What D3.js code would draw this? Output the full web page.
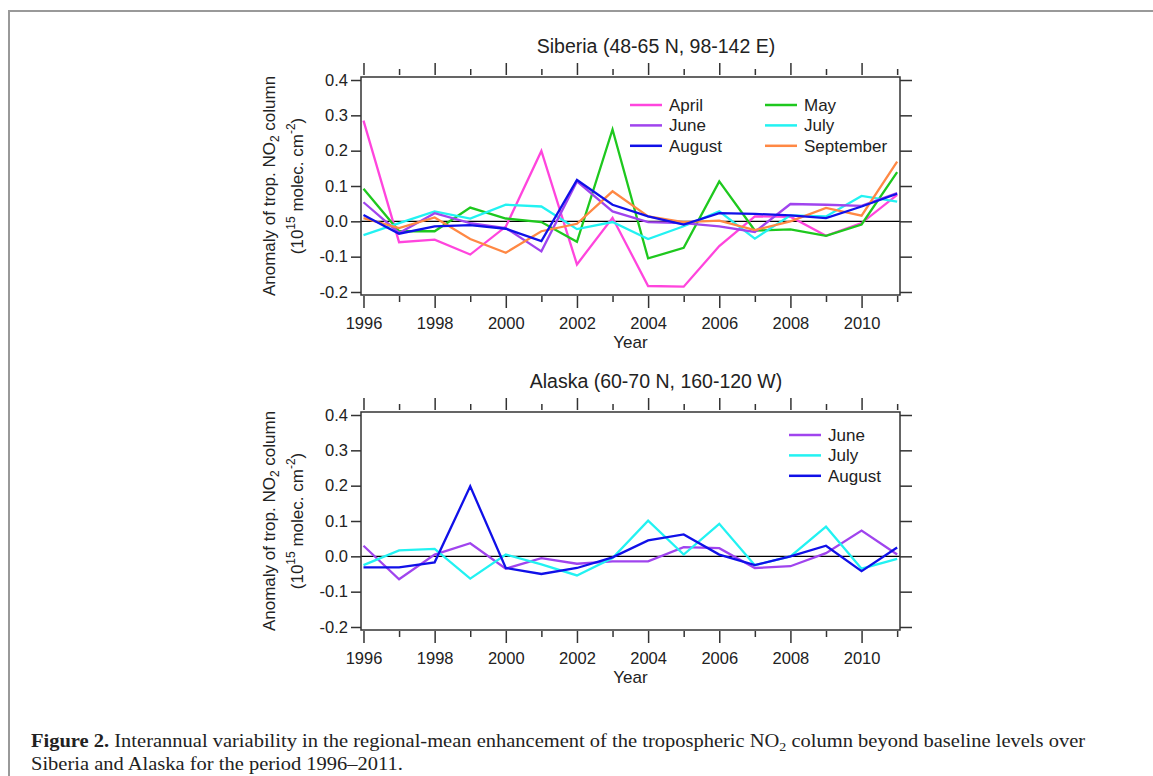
<!DOCTYPE html>
<html>
<head>
<meta charset="utf-8">
<script src="https://cdn.jsdelivr.net/npm/d3@7"></script>
<style>
  body { margin: 0; background: #fff; }
  svg { display: block; font-family: "Liberation Sans", Arial, sans-serif; }
  .tick line { stroke: #333; stroke-width: 1.5; }
  .tick text { fill: #222; font-size: 16.5px; font-family: "Liberation Sans", Arial, sans-serif; }
</style>
</head>
<body>
<svg id="chart" width="1153" height="776"></svg>
<script>
const years = [1996, 1997, 1998, 1999, 2000, 2001, 2002, 2003, 2004, 2005, 2006, 2007, 2008, 2009, 2010, 2011];
const labelYears = [1996, 1998, 2000, 2002, 2004, 2006, 2008, 2010];
const minorYears = [1997, 1999, 2001, 2003, 2005, 2007, 2009, 2011];
const yTicks = [-0.2, -0.1, 0.0, 0.1, 0.2, 0.3, 0.4];

// Siberia (48-65 N, 98-142 E)
const siberiaApril = [0.285, -0.059, -0.052, -0.094, -0.015, 0.199, -0.122, 0.010, -0.183, -0.185, -0.070, 0.014, 0.013, -0.041, -0.005, 0.075];
const siberiaMay = [0.092, -0.028, -0.028, 0.039, 0.008, -0.002, -0.058, 0.260, -0.105, -0.075, 0.113, -0.026, -0.023, -0.041, -0.009, 0.139];
const siberiaJune = [0.054, -0.033, 0.023, -0.005, -0.019, -0.085, 0.113, 0.028, -0.002, -0.005, -0.014, -0.030, 0.049, 0.047, 0.044, 0.080];
const siberiaJuly = [-0.039, -0.005, 0.028, 0.008, 0.047, 0.042, -0.022, -0.002, -0.050, -0.014, 0.028, -0.049, 0.017, 0.014, 0.072, 0.056];
const siberiaAugust = [0.018, -0.035, -0.014, -0.011, -0.021, -0.056, 0.117, 0.047, 0.014, -0.009, 0.023, 0.021, 0.017, 0.009, 0.042, 0.078];
const siberiaSeptember = [0.009, -0.019, 0.011, -0.050, -0.089, -0.028, -0.007, 0.085, 0.014, -0.002, 0.002, -0.025, 0.000, 0.038, 0.016, 0.169];

// Alaska (60-70 N, 160-120 W)
const alaskaJune = [0.030, -0.065, 0.005, 0.037, -0.035, -0.005, -0.021, -0.014, -0.014, 0.026, 0.023, -0.033, -0.028, 0.009, 0.073, 0.005];
const alaskaJuly = [-0.025, 0.017, 0.021, -0.063, 0.005, -0.023, -0.054, -0.005, 0.101, 0.005, 0.092, -0.025, 0.000, 0.084, -0.035, -0.007];
const alaskaAugust = [-0.031, -0.031, -0.017, 0.198, -0.033, -0.050, -0.033, -0.003, 0.045, 0.062, 0.005, -0.025, 0.000, 0.030, -0.042, 0.025];

const color = {
  April: "#ff45dd",
  May: "#1ec81e",
  June: "#a044ee",
  July: "#22f2f2",
  August: "#1010e8",
  September: "#ff8844",
};

const svg = d3.select("#chart");

// page border
svg.append("path")
  .attr("d", "M9,776V11H1153")
  .attr("fill", "none")
  .attr("stroke", "#999")
  .attr("stroke-width", 2);

const left = 361, right = 900;
const x = d3.scaleLinear().domain([1995.93, 2011.08]).range([left, right]);

function panel(top, bottom, title, series, legend) {
  const y = d3.scaleLinear().domain([-0.2085, 0.4085]).range([bottom, top]);
  const g = svg.append("g");

  // title
  g.append("text")
    .attr("x", 656)
    .attr("y", top - 24)
    .attr("text-anchor", "middle")
    .attr("font-size", "19.5px")
    .attr("fill", "#222")
    .text(title);

  // axes
  const xb = g.append("g")
    .attr("transform", "translate(0," + (bottom + 1) + ")")
    .call(d3.axisBottom(x).tickValues(labelYears).tickSize(12).tickPadding(9).tickFormat(d3.format("d")));
  const xbm = g.append("g")
    .attr("transform", "translate(0," + (bottom + 1) + ")")
    .call(d3.axisBottom(x).tickValues(minorYears).tickSize(6).tickFormat(""));
  const xt = g.append("g")
    .attr("transform", "translate(0," + (top - 2) + ")")
    .call(d3.axisTop(x).tickValues(labelYears).tickSize(12).tickFormat(""));
  const xtm = g.append("g")
    .attr("transform", "translate(0," + (top - 2) + ")")
    .call(d3.axisTop(x).tickValues(minorYears).tickSize(6).tickFormat(""));
  const yl = g.append("g")
    .attr("transform", "translate(" + left + ",0)")
    .call(d3.axisLeft(y).tickValues(yTicks).tickSize(10).tickPadding(3).tickFormat(d3.format(".1f")));
  const yr = g.append("g")
    .attr("transform", "translate(" + right + ",0)")
    .call(d3.axisRight(y).tickValues(yTicks).tickSize(12).tickFormat(""));
  [xb, xbm, xt, xtm, yl, yr].forEach((a) => a.select(".domain").remove());
  yl.selectAll(".tick text").text((d) => (d < 0 ? "-" : "") + Math.abs(d).toFixed(1));

  // x label
  g.append("text")
    .attr("x", (left + right) / 2)
    .attr("y", bottom + 53)
    .attr("text-anchor", "middle")
    .attr("font-size", "17px")
    .attr("fill", "#222")
    .text("Year");

  // y label
  const mid = (top + bottom) / 2;
  const yl1 = g.append("text")
    .attr("transform", "translate(275," + mid + ") rotate(-90)")
    .attr("text-anchor", "middle")
    .attr("font-size", "17px")
    .attr("fill", "#222");
  yl1.append("tspan").text("Anomaly of trop. NO");
  yl1.append("tspan").attr("dy", 4).attr("font-size", "12px").text("2");
  yl1.append("tspan").attr("dy", -4).text(" column");

  const yl2 = g.append("text")
    .attr("transform", "translate(303," + mid + ") rotate(-90)")
    .attr("text-anchor", "middle")
    .attr("font-size", "17px")
    .attr("fill", "#222");
  yl2.append("tspan").text("(10");
  yl2.append("tspan").attr("dy", -8).attr("font-size", "12px").text("15");
  yl2.append("tspan").attr("dy", 8).text(" molec. cm");
  yl2.append("tspan").attr("dy", -8).attr("font-size", "12px").text("-2");
  yl2.append("tspan").attr("dy", 8).text(")");

  // zero line
  g.append("line")
    .attr("x1", left)
    .attr("x2", right)
    .attr("y1", y(0))
    .attr("y2", y(0))
    .attr("stroke", "#000")
    .attr("stroke-width", 1.2);

  const line = d3.line()
    .x((d, i) => x(years[i]))
    .y((d) => y(d));

  series.forEach((s) => {
    g.append("path")
      .datum(s.values)
      .attr("fill", "none")
      .attr("stroke", color[s.name])
      .attr("stroke-width", 2.3)
      .attr("stroke-linejoin", "miter")
      .attr("d", line);
  });

  // frame
  g.append("rect")
    .attr("x", left)
    .attr("y", top)
    .attr("width", right - left)
    .attr("height", bottom - top)
    .attr("fill", "none")
    .attr("stroke", "#333")
    .attr("stroke-width", 1.5);

  // legend
  legend.items.forEach((name, i) => {
    const col = i % legend.cols;
    const row = Math.floor(i / legend.cols);
    const lx = legend.x + col * legend.colWidth;
    const ly = legend.y + row * 20.4;
    g.append("line")
      .attr("x1", lx)
      .attr("x2", lx + 32)
      .attr("y1", ly)
      .attr("y2", ly)
      .attr("stroke", color[name])
      .attr("stroke-width", 2.5);
    g.append("text")
      .attr("x", lx + 39)
      .attr("y", ly)
      .attr("dy", "0.35em")
      .attr("font-size", "17px")
      .attr("fill", "#222")
      .text(name);
  });
}

panel(77, 295, "Siberia (48-65 N, 98-142 E)", [
  { name: "April", values: siberiaApril },
  { name: "May", values: siberiaMay },
  { name: "July", values: siberiaJuly },
  { name: "June", values: siberiaJune },
  { name: "September", values: siberiaSeptember },
  { name: "August", values: siberiaAugust },
], { items: ["April", "May", "June", "July", "August", "September"], cols: 2, colWidth: 135, x: 630, y: 105 });

panel(412, 630, "Alaska (60-70 N, 160-120 W)", [
  { name: "June", values: alaskaJune },
  { name: "July", values: alaskaJuly },
  { name: "August", values: alaskaAugust },
], { items: ["June", "July", "August"], cols: 1, colWidth: 0, x: 789, y: 435 });

// caption
const cap = svg.append("g").attr("font-family", "'Liberation Serif', 'Times New Roman', serif").attr("font-size", "19px").attr("fill", "#222");
const c1 = cap.append("text").attr("x", 0).attr("y", 747);
c1.append("tspan").attr("font-weight", "bold").text("Figure 2.");
c1.append("tspan").text(" Interannual variability in the regional-mean enhancement of the tropospheric NO");
c1.append("tspan").attr("dy", 4).attr("font-size", "13px").text("2");
c1.append("tspan").attr("dy", -4).text(" column beyond baseline levels over");
const c2 = cap.append("text").attr("x", 0).attr("y", 770).text("Siberia and Alaska for the period 1996\u20132011.");
const k = 1055 / c1.node().getComputedTextLength();
cap.attr("transform", "translate(31,0) scale(" + k + ",1)");
</script>
</body>
</html>
